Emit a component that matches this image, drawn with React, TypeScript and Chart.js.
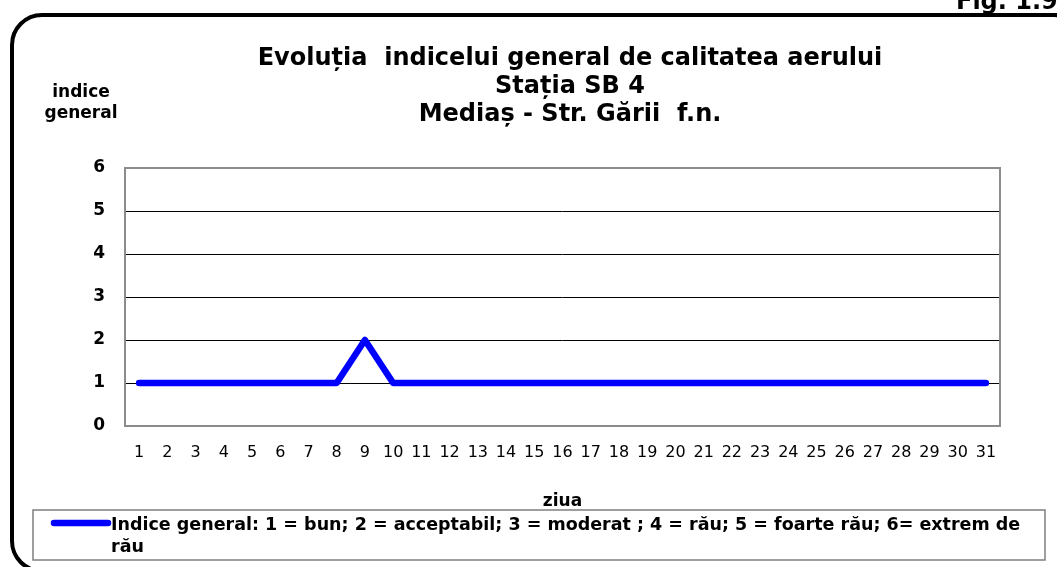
import React, { useEffect, useRef } from "react";
import { Chart, registerables } from "chart.js";

Chart.register(...registerables);

const days = [
  "1", "2", "3", "4", "5", "6", "7", "8", "9", "10", "11", "12", "13", "14", "15", "16",
  "17", "18", "19", "20", "21", "22", "23", "24", "25", "26", "27", "28", "29", "30", "31",
];
const indexValues = [
  1, 1, 1, 1, 1, 1, 1, 1, 2, 1, 1, 1, 1, 1, 1, 1,
  1, 1, 1, 1, 1, 1, 1, 1, 1, 1, 1, 1, 1, 1, 1,
];
const yMin = 0;
const yMax = 6;
const titleLines = [
  "Evolu\u021Bia  indicelui general de calitatea aerului",
  "Sta\u021Bia SB 4",
  "Media\u0219 - Str. G\u0103rii  f.n.",
];
const yAxisTitle = ["indice", "general"];
const xAxisTitle = "ziua";
const legendLines = [
  "Indice general: 1 = bun; 2 = acceptabil; 3 = moderat ; 4 = r\u0103u; 5 = foarte r\u0103u; 6= extrem de",
  "r\u0103u",
];
const figLabel = "Fig. 1.9";

const FONT = "'DejaVu Sans', sans-serif";
const LINE_COLOR = "#0000FF";

const decorPlugin = {
  id: "decor",
  beforeDraw(chart: any) {
    const ctx = chart.ctx as CanvasRenderingContext2D;
    ctx.save();
    ctx.fillStyle = "#ffffff";
    ctx.fillRect(0, 0, chart.width, chart.height);
    // rounded frame
    const x = 12, y = 15, w = 1072, h = 556, r = 30;
    ctx.beginPath();
    ctx.moveTo(x + r, y);
    ctx.lineTo(x + w - r, y);
    ctx.arcTo(x + w, y, x + w, y + r, r);
    ctx.lineTo(x + w, y + h - r);
    ctx.arcTo(x + w, y + h, x + w - r, y + h, r);
    ctx.lineTo(x + r, y + h);
    ctx.arcTo(x, y + h, x, y + h - r, r);
    ctx.lineTo(x, y + r);
    ctx.arcTo(x, y, x + r, y, r);
    ctx.closePath();
    ctx.lineWidth = 4;
    ctx.strokeStyle = "#000000";
    ctx.stroke();
    ctx.restore();
  },
  beforeDatasetsDraw(chart: any) {
    const ctx = chart.ctx as CanvasRenderingContext2D;
    const a = chart.chartArea;
    ctx.save();
    ctx.strokeStyle = "#8c8c8c";
    ctx.lineWidth = 2;
    ctx.strokeRect(a.left, a.top, a.right - a.left, a.bottom - a.top);
    ctx.restore();
  },
  afterDraw(chart: any) {
    const ctx = chart.ctx as CanvasRenderingContext2D;
    ctx.save();
    ctx.fillStyle = "#000000";
    ctx.textBaseline = "alphabetic";

    // Fig label
    ctx.font = `bold 24px ${FONT}`;
    ctx.textAlign = "left";
    ctx.fillText(figLabel, 956, 9);

    // title
    ctx.font = `bold 24px ${FONT}`;
    ctx.textAlign = "center";
    const tb = [65, 93, 121];
    titleLines.forEach((t, i) => ctx.fillText(t, 570, tb[i]));

    // y-axis title
    ctx.font = `bold 17px ${FONT}`;
    ctx.fillText(yAxisTitle[0], 81, 97);
    ctx.fillText(yAxisTitle[1], 81, 118);

    // legend box
    ctx.strokeStyle = "#7f7f7f";
    ctx.lineWidth = 1.5;
    ctx.strokeRect(33, 510, 1012, 50);
    ctx.strokeStyle = LINE_COLOR;
    ctx.lineWidth = 6.5;
    ctx.lineCap = "round";
    ctx.beginPath();
    ctx.moveTo(54, 523);
    ctx.lineTo(108, 523);
    ctx.stroke();
    ctx.font = `bold 17.5px ${FONT}`;
    ctx.textAlign = "left";
    ctx.fillText(legendLines[0], 111, 530);
    ctx.fillText(legendLines[1], 111, 552);
    ctx.restore();
  },
};

export default function App() {
  const canvasRef = useRef<HTMLCanvasElement | null>(null);

  useEffect(() => {
    if (!canvasRef.current) return;
    const chart = new Chart(canvasRef.current, {
      type: "line",
      data: {
        labels: days,
        datasets: [
          {
            label: legendLines.join(" "),
            data: indexValues,
            borderColor: LINE_COLOR,
            backgroundColor: LINE_COLOR,
            borderWidth: 6.5,
            borderCapStyle: "round",
            borderJoinStyle: "round",
            pointRadius: 0,
            pointHoverRadius: 0,
            tension: 0,
            fill: false,
          },
        ],
      },
      options: {
        animation: false,
        responsive: false,
        events: [],
        layout: { padding: { left: 0, right: 57, top: 168, bottom: 0 } },
        plugins: {
          legend: { display: false },
          title: { display: false },
          tooltip: { enabled: false },
        },
        scales: {
          x: {
            type: "category",
            offset: true,
            grid: { color: "rgba(0,0,0,0)", drawTicks: false },
            border: { display: false },
            ticks: {
              color: "#000000",
              font: { family: FONT, size: 16, weight: "normal" },
              padding: 17,
              maxRotation: 0,
              autoSkip: false,
            },
            title: {
              display: true,
              text: xAxisTitle,
              color: "#000000",
              font: { family: FONT, size: 17, weight: "bold" },
              padding: { top: 0, bottom: 55 },
            },
            afterFit: (scale: any) => {
              scale.height = 141;
            },
          },
          y: {
            min: yMin,
            max: yMax,
            grid: {
              drawTicks: false,
              color: (c: any) =>
                c.tick && (c.tick.value === yMin || c.tick.value === yMax)
                  ? "rgba(0,0,0,0)"
                  : "#000000",
              lineWidth: 1,
            },
            border: { display: false },
            ticks: {
              stepSize: 1,
              color: "#000000",
              font: { family: FONT, size: 17, weight: "bold" },
              padding: 20,
            },
            afterFit: (scale: any) => {
              scale.width = 125;
            },
          },
        },
      },
      plugins: [decorPlugin],
    });
    return () => chart.destroy();
  }, []);

  return (
    <div style={{ position: "absolute", left: 0, top: 0, width: 1057, height: 567 }}>
      <canvas ref={canvasRef} width={1057} height={567} style={{ display: "block" }} />
    </div>
  );
}
